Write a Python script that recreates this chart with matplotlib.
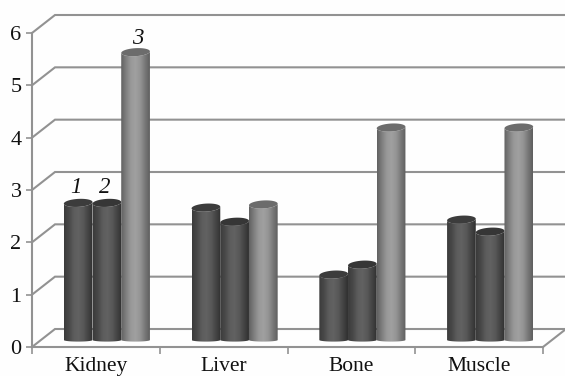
import numpy as np
import matplotlib
matplotlib.use("Agg")
import matplotlib.pyplot as plt
from matplotlib.colors import LinearSegmentedColormap
from matplotlib.patches import Polygon

categories = ["Kidney", "Liver", "Bone", "Muscle"]
series_1 = [2.62, 2.53, 1.25, 2.30]
series_2 = [2.62, 2.26, 1.44, 2.07]
series_3 = [5.50, 2.59, 4.06, 4.06]
y_ticks = [0, 1, 2, 3, 4, 5, 6]

plt.rcParams['font.family'] = ['Liberation Serif', 'DejaVu Serif']

W, H = 565, 376
px_x = 511 / 4      # pixels per category
px_y = 314 / 6      # pixels per unit of value

# depth of the 3d box and of the bars inside it, in data units
depth_x = 23 / px_x
depth_y = 18 / px_y
base_y = 7 / px_y
group_shift = 11 / px_x
bar_w = 28.7 / px_x
cap_h = 4.0 / px_y
base_h = 1.6 / px_y
tilt = 0.8 * (px_x / px_y) * 1 / 14.35

dark_cmap = LinearSegmentedColormap.from_list(
    "dark", ["#3a3a3a", "#484848", "#5c5c5c", "#626262", "#585858", "#444444", "#303030"])
light_cmap = LinearSegmentedColormap.from_list(
    "light", ["#606060", "#7e7e7e", "#989898", "#a0a0a0", "#949494", "#787878", "#5e5e5e"])


def draw_cylinder(ax, x, value, cmap, cap_color, z):
    cx = x + bar_w / 2
    top = base_y + value
    t = np.linspace(0, np.pi, 40)
    # body outline: rounded base, then the near edge of the top cap
    low_x = cx - bar_w / 2 * np.cos(t)
    low_y = base_y - base_h * np.sin(t)
    up_x = cx + bar_w / 2 * np.cos(t)
    up_y = top - cap_h * np.sin(t) + tilt * bar_w * np.cos(t) / 2
    body = Polygon(np.vstack([np.column_stack([low_x, low_y]),
                              np.column_stack([up_x, up_y])]),
                   closed=True, transform=ax.transData, facecolor="none", edgecolor="none")
    ax.add_patch(body)
    grad = np.linspace(0, 1, 256).reshape(1, -1)
    im = ax.imshow(grad, cmap=cmap, aspect="auto", zorder=z, interpolation="bilinear",
                   extent=[x, x + bar_w, base_y - base_h, top + 2 * cap_h])
    im.set_clip_path(body)
    im.set_clip_on(True)
    # top cap
    t2 = np.linspace(0, 2 * np.pi, 60)
    cap_x = cx + bar_w / 2 * np.cos(t2)
    cap_y = top + cap_h * np.sin(t2) + tilt * bar_w * np.cos(t2) / 2
    ax.add_patch(Polygon(np.column_stack([cap_x, cap_y]), closed=True, facecolor=cap_color,
                         edgecolor="none", zorder=z + 0.1, clip_on=False))


fig = plt.figure(figsize=(W / 100, H / 100), dpi=100, facecolor="#fefefe")
ax = fig.add_axes([32 / W, (H - 347) / H, 511 / W, 314 / H])
ax.patch.set_visible(False)

grid_color = "#929292"
n = len(categories)
right_end = n + 22 / px_x
for v in y_ticks:
    ax.plot([0, depth_x, right_end], [v, v + depth_y, v + depth_y], color=grid_color,
            lw=1.5, clip_on=False, zorder=1, solid_joinstyle="miter")
ax.plot([n, n + depth_x], [0, depth_y], color=grid_color, lw=1.5, clip_on=False, zorder=1)

for i in range(n):
    x0 = i + 0.5 + group_shift - 1.5 * bar_w
    draw_cylinder(ax, x0, series_1[i], dark_cmap, "#3c3c3c", 3 + i * 3)
    draw_cylinder(ax, x0 + bar_w, series_2[i], dark_cmap, "#363636", 4 + i * 3)
    draw_cylinder(ax, x0 + 2 * bar_w, series_3[i], light_cmap, "#6c6c6c", 5 + i * 3)

# series numbers over the first group
num_font = dict(style="italic", fontsize=16.5, ha="center", va="center", color="#111111", zorder=30)
ax.text(0.5 + group_shift - bar_w - 2 / px_x, base_y + series_1[0] + 0.29, "1", **num_font)
ax.text(0.5 + group_shift - 2 / px_x, base_y + series_2[0] + 0.29, "2", **num_font)
ax.text(0.5 + group_shift + bar_w + 2 / px_x, base_y + series_3[0] + 0.27, "3", **num_font)

ax.set_xlim(0, n)
ax.set_ylim(0, 6)
ax.set_yticks(y_ticks)
ax.set_xticks(range(n + 1))
ax.set_xticklabels([])
ax.set_xticks([i + 0.5 for i in range(n)], minor=True)
ax.set_xticklabels(categories, minor=True, fontsize=15.5, color="#111111")
ax.tick_params(axis="x", which="major", length=5, width=1.2, color=grid_color)
ax.tick_params(axis="x", which="minor", length=0, pad=7.5)
ax.tick_params(axis="y", length=4, width=1.2, color=grid_color, labelsize=16,
               labelcolor="#111111", pad=3.5)
for side in ["top", "right"]:
    ax.spines[side].set_visible(False)
for side in ["left", "bottom"]:
    ax.spines[side].set_color(grid_color)
    ax.spines[side].set_linewidth(1.5)
    ax.spines[side].set_zorder(2)

fig.savefig("out.png", dpi=100, facecolor=fig.get_facecolor())
